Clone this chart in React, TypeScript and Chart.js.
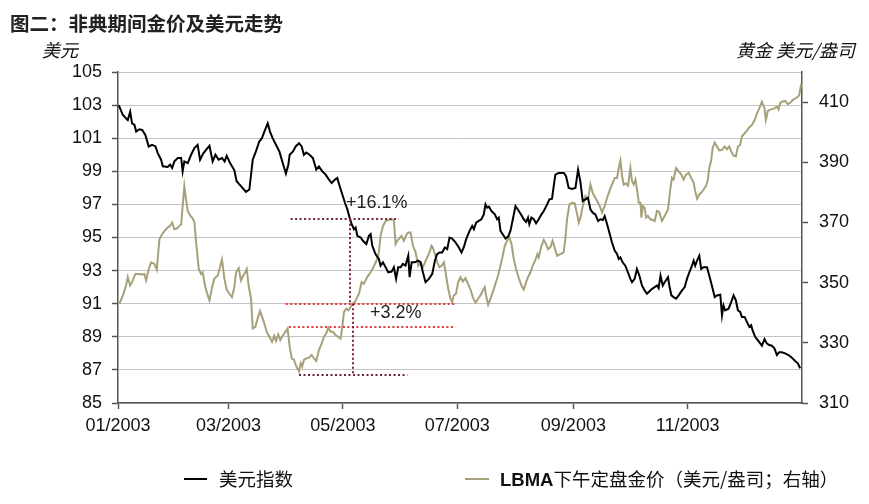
import React, { useEffect, useRef } from "react";
import { Chart, registerables } from "chart.js";

Chart.register(...registerables);

// ---- data (x = day of year 2003, 0 = 1 Jan) ----
const usdDays = [
  0.4, 2.6, 4.3, 5.2, 6.5, 7.5, 8.8, 9.7, 11.4, 12.9, 14.6, 16.4, 18.2, 20, 21.2, 23, 23.9, 26.5, 27.8, 28.9,
  30.1, 31.9, 33.7, 34.5, 35.4, 37.2, 39, 40.8, 42.5, 43.8, 45.6, 47, 48.8, 50.5, 52, 53.7, 55.5, 56.9, 58, 59.8,
  62.1, 63.3, 65.6, 68.3, 70.1, 71.9, 73.6, 75.4, 76.8, 78.1, 79.9, 81.1, 82.5, 84.3, 86.1, 87.9, 89.6, 90.9, 91.6, 93.4,
  94.8, 96.6, 98, 99.2, 100.5, 102.2, 104, 105.8, 107.2, 109, 110.8, 112.6, 114, 115.8, 117, 118.3, 119.7, 121.1, 122.4, 123.6,
  124.7, 125.9, 126.8, 127.7, 129.5, 130.7, 132.5, 133.9, 134.8, 135.7, 137.4, 139.2, 140.1, 141.4, 142.8, 144.2, 146, 147.2, 148.4, 149.5,
  150.8, 152, 153.4, 154.9, 155.6, 156.7, 158.4, 160.2, 161.5, 162.7, 164.1, 165.9, 167.7, 169.1, 170.3, 171.6, 173, 174.4, 175.7, 176.9,
  178.3, 180.1, 181.9, 183.3, 184.5, 185.8, 187.6, 189, 189.9, 191.1, 192.5, 193.9, 195.2, 196.1, 197, 197.9, 199.3, 201.1, 202.3, 203.2,
  204.1, 205.3, 206.8, 208.2, 209.4, 210.7, 212.1, 213.9, 215.3, 216.5, 217.8, 218.8, 219.5, 220.6, 221.9, 223.1, 224.5, 226, 227.2, 229,
  230.2, 231.6, 232.5, 233.4, 235.2, 237.9, 239.1, 240.5, 242.3, 244.1, 245.5, 246.7, 248, 249.4, 250.8, 252.1, 253.3, 254.7, 256.2, 257.4,
  258.7, 259.7, 261, 262.2, 263.6, 265.1, 266.3, 267.2, 268.1, 269.3, 270.7, 272.1, 273.4, 274.3, 275.7, 276.9, 278.2, 279.6, 281, 282.3,
  283.5, 285, 286.4, 287.6, 288.5, 289.5, 290.7, 291.7, 293.5, 294.2, 295.3, 296.5, 297.8, 299.2, 300.6, 302.4, 303.6, 304.9, 306.3, 307.2,
  308, 309, 310.2, 311.2, 312.5, 314.3, 315.5, 316.9, 318.4, 319.6, 321.4, 322.3, 323.1, 324, 325.8, 327.2, 328.5, 329.7, 330.8, 332,
  332.9, 334.4, 335.6, 336.9, 337.9, 338.6, 340, 341.4, 342.7, 343.6, 345, 346.2, 347.5, 348.9, 350.3, 351.6, 352.8, 354.2, 356, 357.8,
  359.6, 361.3, 362.8, 364,
];
const usdValues = [
  103.0, 102.4, 102.2, 102.1, 102.6, 101.9, 101.8, 101.4, 101.54, 101.5, 101.2, 100.5, 100.6, 100.5, 100.1, 99.7, 99.3, 99.26, 99.4, 99.2,
  99.6, 99.8, 99.8, 99.0, 99.6, 99.5, 100.0, 100.4, 100.6, 99.7, 100.1, 100.3, 100.54, 99.6, 100.0, 99.7, 99.8, 99.6, 99.94, 99.5,
  99.06, 98.4, 98.1, 97.76, 97.9, 99.7, 100.2, 100.8, 101.0, 101.4, 101.9, 101.4, 101.0, 100.6, 100.2, 99.5, 98.86, 99.4, 100.0, 100.2,
  100.5, 100.7, 100.5, 100.0, 100.14, 100.0, 99.8, 99.1, 99.3, 99.0, 98.8, 98.5, 98.3, 98.5, 98.6, 98.1, 97.6, 97.1, 96.7, 96.2,
  95.8, 95.5, 95.6, 95.1, 95.0, 94.8, 94.6, 95.1, 95.2, 94.5, 94.0, 93.7, 93.3, 93.5, 93.2, 92.9, 92.94, 93.2, 92.5, 93.2,
  93.2, 93.4, 93.3, 93.9, 92.6, 93.5, 93.5, 93.6, 93.5, 92.9, 92.3, 92.5, 92.8, 93.6, 94.0, 94.1, 94.1, 94.4, 94.3, 95.0,
  94.94, 94.7, 94.4, 94.1, 94.4, 94.9, 95.4, 95.7, 95.5, 95.9, 96.0, 96.1, 96.4, 97.0, 96.8, 96.86, 96.6, 96.4, 96.1, 96.2,
  95.4, 95.2, 94.94, 95.06, 95.4, 96.1, 96.9, 96.6, 96.34, 96.1, 95.94, 96.2, 95.8, 96.2, 96.1, 95.86, 96.1, 96.4, 96.6, 97.0,
  97.3, 97.34, 98.1, 98.8, 98.9, 98.9, 98.7, 98.0, 97.94, 98.0, 99.1, 98.4, 97.2, 97.3, 97.4, 96.7, 96.5, 96.4, 96.0, 96.1,
  96.06, 96.3, 95.8, 95.3, 94.7, 94.2, 94.0, 93.7, 93.8, 93.5, 93.3, 92.9, 92.5, 92.3, 92.5, 93.1, 92.7, 92.1, 91.8, 91.6,
  91.74, 91.9, 92.0, 92.1, 91.94, 92.7, 92.1, 92.3, 92.6, 92.1, 91.5, 91.4, 91.3, 91.5, 91.74, 92.0, 92.5, 92.9, 93.3, 93.6,
  93.3, 93.6, 93.9, 93.1, 93.2, 93.2, 92.7, 92.1, 91.4, 91.5, 91.54, 90.3, 90.9, 90.6, 90.7, 91.1, 91.5, 91.2, 90.6, 90.5,
  90.2, 90.2, 89.9, 89.6, 89.7, 89.4, 89.0, 88.8, 88.6, 88.46, 88.86, 88.6, 88.5, 88.46, 88.3, 87.9, 88.06, 88.06, 88.0, 87.9,
  87.74, 87.54, 87.4, 87.1,
];

const goldDays = [
  0.8, 2.6, 4.3, 5.2, 6.5, 7.5, 9.3, 11.1, 12.9, 14.1, 15, 16.4, 17.7, 19.4, 20.7, 22.1, 23.5, 25.3, 26.5, 27.8,
  28.9, 30.1, 31.4, 32.8, 33.7, 34.5, 35.4, 36.3, 37.2, 38.5, 39.9, 40.8, 41.7, 43.1, 44.3, 45.2, 46.6, 47.9, 48.8, 50.2,
  51.4, 53.2, 54.4, 55.5, 56.8, 58, 59.4, 60.8, 62.1, 63, 64.4, 65.6, 66.9, 67.9, 68.7, 69.7, 71, 71.9, 73.3, 74.5,
  75.8, 76.9, 78.1, 79.3, 80.8, 82.2, 83.4, 84.3, 85.5, 86.6, 87.9, 89.3, 90.5, 91.6, 92.7, 93.9, 95.2, 96.6, 97.5, 98.3,
  99.2, 100.5, 101.9, 103.3, 104.6, 105.8, 107.2, 108.7, 109.9, 111.1, 112.2, 113.5, 114.7, 116.1, 117.5, 118.8, 119.7, 120.6, 121.8, 122.9,
  124.1, 125, 126.4, 127.7, 128.6, 130, 131.2, 132.5, 133.5, 134.8, 136, 137.1, 138.3, 139.2, 140.1, 141.4, 142.8, 144.2, 146, 147.2,
  148.1, 149, 150.2, 151.3, 152.5, 153.8, 154.9, 156.1, 157.4, 158.8, 160.2, 161.5, 162.4, 163.8, 165, 166.2, 167.3, 168, 169.1, 170.3,
  171.6, 172.7, 173.9, 174.8, 176.2, 177.4, 178.3, 179.2, 180.4, 181.5, 182.8, 184, 185.4, 186.8, 188.1, 189.3, 190.8, 192.2, 193.4, 194.7,
  195.7, 196.4, 197.5, 198.8, 200, 201.4, 202.8, 204.1, 205.3, 206.4, 207.6, 208.9, 210, 211.2, 212.4, 213.9, 215.3, 216.5, 217.8, 218.8,
  220.1, 221.3, 222.8, 223.8, 224.5, 226, 227.2, 228.4, 229.5, 230.7, 231.9, 233, 234.3, 236.1, 237.8, 238.7, 239.6, 240.9, 242.3, 243.7,
  245, 245.9, 246.8, 248, 249.4, 250.8, 252.1, 253.3, 254.7, 256.2, 257.4, 258.3, 259.7, 261, 262.2, 263.6, 265.1, 266.3, 267.2, 268.1,
  269, 269.9, 271.1, 272.2, 273.4, 274.3, 275.2, 276.1, 277, 277.9, 278.8, 279.3, 280, 281, 281.8, 282.8, 284.1, 285.3, 286.4, 287.6,
  288.8, 290.3, 291.7, 293.5, 294.7, 295.6, 296.5, 297.8, 299.2, 300.6, 301.8, 303.1, 304.5, 305.9, 307.2, 308, 309, 310.2, 311.2, 312.5,
  313.7, 314.8, 315.5, 316.6, 317.3, 318.4, 319.6, 320.8, 322.3, 323.7, 324.9, 326.2, 327.2, 328.5, 329.7, 330.8, 332, 332.9, 334.4, 335.6,
  336.9, 338.3, 339.7, 341, 342.2, 343.6, 345, 345.7, 346.8, 348.5, 350.3, 351.6, 352.5, 353.4, 354.6, 356, 357.5, 358.7, 360, 361.4,
  362.8, 363.5, 364.6,
];
const goldValues = [
  343.0, 345.75, 349.05, 351.8, 349.05, 350.15, 352.9, 352.9, 352.7, 352.9, 350.7, 354.55, 356.75, 356.2, 354.3, 364.45, 366.1, 367.5, 368.3, 368.85,
  369.95, 367.75, 367.97, 368.85, 369.4, 375.45, 382.05, 377.65, 373.8, 372.37, 371.27, 369.95, 363.35, 354.55, 352.9, 353.45, 348.5, 345.75, 344.1, 348.5,
  351.25, 352.35, 355.1, 357.63, 351.25, 347.7, 346.3, 345.2, 348.5, 353.45, 354.8, 350.7, 352.35, 353.45, 354.55, 349.05, 344.65, 334.75, 335.3, 338.05,
  340.6, 338.6, 336.4, 333.65, 332.0, 330.35, 332.33, 330.57, 332.77, 330.9, 332.33, 333.65, 334.75, 328.7, 324.85, 324.3, 322.1, 320.45, 323.2, 322.1,
  324.3, 324.85, 325.07, 325.95, 324.85, 323.97, 327.6, 329.8, 332.0, 333.1, 334.97, 333.65, 333.65, 332.55, 332.0, 331.45, 335.3, 340.25, 341.35, 340.8,
  341.9, 343.0, 343.55, 345.2, 346.3, 350.15, 349.6, 351.25, 352.35, 353.45, 354.77, 356.2, 357.85, 360.05, 365.55, 368.85, 370.5, 370.8, 371.05, 370.8,
  362.8, 363.9, 364.7, 365.55, 363.9, 365.8, 366.65, 366.65, 362.25, 360.05, 355.65, 356.75, 354.77, 356.75, 358.4, 360.05, 362.25, 361.7, 359.5, 356.75,
  355.1, 355.65, 356.75, 353.45, 347.95, 344.65, 343.55, 345.75, 346.3, 350.15, 351.8, 350.37, 351.47, 349.6, 347.73, 345.2, 343.33, 344.65, 345.75, 347.4,
  348.5, 345.75, 342.67, 344.65, 346.85, 349.6, 352.35, 355.65, 358.95, 362.25, 363.9, 365.0, 362.8, 357.85, 354.55, 351.47, 349.05, 347.73, 350.15, 351.8,
  353.45, 355.65, 357.63, 359.5, 358.4, 362.25, 364.23, 362.8, 361.15, 361.7, 363.9, 361.7, 358.95, 359.5, 360.05, 364.45, 371.05, 376.0, 376.55, 376.33,
  372.7, 369.95, 371.6, 375.45, 378.75, 377.65, 382.6, 379.85, 378.2, 376.55, 374.9, 373.25, 375.45, 378.2, 380.4, 382.6, 384.8, 384.8, 388.1, 390.63,
  385.35, 382.6, 382.93, 382.27, 388.1, 383.7, 382.6, 384.25, 380.95, 376.55, 376.55, 371.6, 375.45, 374.9, 371.6, 372.15, 371.05, 370.83, 370.5, 373.8,
  373.47, 370.5, 372.15, 374.35, 380.95, 384.8, 384.25, 388.1, 387.0, 385.9, 384.25, 385.9, 386.45, 384.8, 383.15, 380.4, 377.87, 379.3, 379.85, 380.95,
  382.05, 384.25, 388.1, 390.85, 394.7, 396.57, 395.25, 393.93, 394.15, 395.25, 394.37, 395.25, 393.6, 392.17, 391.95, 395.25, 395.8, 398.55, 399.65, 400.53,
  401.63, 402.4, 404.05, 406.25, 407.9, 410.1, 407.9, 404.05, 407.13, 407.57, 407.9, 408.45, 407.57, 409.77, 410.21, 410.43, 409.33, 409.77, 410.65, 411.2,
  411.75, 412.3, 416.15,
];

const monthTickDays = [0, 59, 120, 181, 243, 304];
const monthTickLabels = ["01/2003", "03/2003", "05/2003", "07/2003", "09/2003", "11/2003"];
const rightTicks = [310, 330, 350, 370, 390, 410];

// reference lines of the annotation (day ranges and left-axis levels)
const refLevels = [96.1, 91.0, 89.6, 86.7];
const refStartDays = [92.1, 89.5, 91.2, 96.6];
const refEndDays = [149.9, 180.0, 179.2, 154.4];
const refIsRed = [false, true, true, false];
const vertDays = [123.8, 125.6];
const vertFrom = [96.1, 91.0];
const vertTo = [91.0, 86.7];
const noteTexts = ["+16.1%", "+3.2%"];
const noteDays = [121.7, 134.5];
const noteLevels = [97.1, 90.45];

const TICK_FONT = { family: "'Liberation Sans', Arial, sans-serif", size: 18 };
const CJK = "'Noto Sans CJK SC', 'Noto Sans', sans-serif";

const annotationPlugin = {
  id: "annotationLines",
  afterDatasetsDraw(chart: any) {
    const ctx = chart.ctx;
    const x = chart.scales.x;
    const y = chart.scales.yL;
    ctx.save();
    ctx.lineWidth = 2;
    ctx.setLineDash([2, 2.5]);
    refLevels.forEach((lv, i) => {
      ctx.strokeStyle = refIsRed[i] ? "#e4393a" : "#6e1f3a";
      const py = Math.round(y.getPixelForValue(lv));
      ctx.beginPath();
      ctx.moveTo(x.getPixelForValue(refStartDays[i]), py);
      ctx.lineTo(x.getPixelForValue(refEndDays[i]), py);
      ctx.stroke();
    });
    vertDays.forEach((d, i) => {
      ctx.strokeStyle = "#7a1f35";
      const px = Math.round(x.getPixelForValue(d));
      ctx.beginPath();
      ctx.moveTo(px, y.getPixelForValue(vertFrom[i]));
      ctx.lineTo(px, y.getPixelForValue(vertTo[i]));
      ctx.stroke();
    });
    ctx.setLineDash([]);
    ctx.fillStyle = "#222";
    ctx.font = "18px 'Liberation Sans', Arial, sans-serif";
    ctx.textBaseline = "middle";
    ctx.textAlign = "left";
    noteTexts.forEach((t, i) => {
      ctx.fillText(t, x.getPixelForValue(noteDays[i]), y.getPixelForValue(noteLevels[i]));
    });
    ctx.restore();
  },
};

function ChartCanvas() {
  const ref = useRef<HTMLCanvasElement | null>(null);
  useEffect(() => {
    if (!ref.current) return;
    const chart = new Chart(ref.current, {
      type: "line",
      data: {
        datasets: [
          {
            label: "美元指数",
            data: usdDays.map((d, i) => ({ x: d, y: usdValues[i] })),
            borderColor: "#000000",
            borderWidth: 2,
            pointRadius: 0,
            tension: 0,
            yAxisID: "yL",
            order: 0,
          },
          {
            label: "LBMA下午定盘金价（美元/盎司；右轴）",
            data: goldDays.map((d, i) => ({ x: d, y: goldValues[i] })),
            borderColor: "#a7a17a",
            borderWidth: 2,
            pointRadius: 0,
            tension: 0,
            yAxisID: "yR",
            order: 1,
          },
        ],
      },
      options: {
        animation: false,
        responsive: false,
        devicePixelRatio: 1,
        layout: { padding: { top: 72, left: 0, right: 0, bottom: 0 } },
        plugins: { legend: { display: false }, tooltip: { enabled: false }, title: { display: false } },
        scales: {
          x: {
            type: "linear",
            min: 0,
            max: 365,
            afterBuildTicks: (s: any) => {
              s.ticks = monthTickDays.map((v) => ({ value: v }));
            },
            afterFit: (s: any) => {
              s.height = 101;
            },
            ticks: {
              callback: (v: any) => {
                const k = monthTickDays.indexOf(Number(v));
                return k >= 0 ? monthTickLabels[k] : "";
              },
              font: TICK_FONT,
              color: "#111",
              maxRotation: 0,
              autoSkip: false,
              padding: 6,
            },
            grid: { drawOnChartArea: false, tickLength: 6, tickColor: "#555", tickWidth: 1.5 },
            border: { color: "#555", width: 1.5 },
          },
          yL: {
            type: "linear",
            position: "left",
            min: 85,
            max: 105,
            ticks: { stepSize: 2, font: TICK_FONT, color: "#111", padding: 10 },
            grid: { color: "#c4c4c4", lineWidth: 1, tickLength: 6, tickColor: "#555", tickWidth: 1.5 },
            border: { color: "#555", width: 1.5 },
            afterFit: (s: any) => {
              s.width = 118;
            },
          },
          yR: {
            type: "linear",
            position: "right",
            min: 310,
            max: 420,
            afterBuildTicks: (s: any) => {
              s.ticks = rightTicks.map((v) => ({ value: v }));
            },
            ticks: { font: TICK_FONT, color: "#111", padding: 11 },
            grid: { drawOnChartArea: false, tickLength: 6, tickColor: "#555", tickWidth: 1.5 },
            border: { color: "#555", width: 1.5 },
            afterFit: (s: any) => {
              s.width = 67;
            },
          },
        },
      },
      plugins: [annotationPlugin],
    } as any);
    return () => chart.destroy();
  }, []);
  return <canvas ref={ref} width={869} height={504} style={{ position: "absolute", left: 0, top: 0 }} />;
}

export default function App() {
  const abs = (s: React.CSSProperties): React.CSSProperties => ({ position: "absolute", whiteSpace: "nowrap", lineHeight: 1, ...s });
  return (
    <div style={{ position: "fixed", left: 0, top: 0, width: 869, height: 504, background: "#fff", overflow: "hidden" }}>
      <ChartCanvas />
      <div style={abs({ left: 10, top: 13, fontFamily: CJK, fontWeight: 700, fontSize: 19.5, color: "#222" })}>
        图二：非典期间金价及美元走势
      </div>
      <div style={abs({ left: 42, top: 40, fontFamily: CJK, fontStyle: "italic", fontSize: 18, color: "#111" })}>美元</div>
      <div style={abs({ right: 14, top: 40, fontFamily: CJK, fontStyle: "italic", fontSize: 18, color: "#111" })}>
        黄金 美元/盎司
      </div>
      <div style={abs({ left: 184, top: 478, width: 23, height: 2, background: "#000" })} />
      <div style={abs({ left: 219, top: 469, fontFamily: CJK, fontSize: 18.5, color: "#111" })}>美元指数</div>
      <div style={abs({ left: 465, top: 478, width: 24, height: 2, background: "#a7a17a" })} />
      <div style={abs({ left: 500, top: 469, fontFamily: CJK, fontSize: 18.5, color: "#111" })}>
        <span style={{ fontFamily: "'Liberation Sans', Arial, sans-serif", fontWeight: 700 }}>LBMA</span>
        下午定盘金价（美元/盎司；右轴）
      </div>
    </div>
  );
}
